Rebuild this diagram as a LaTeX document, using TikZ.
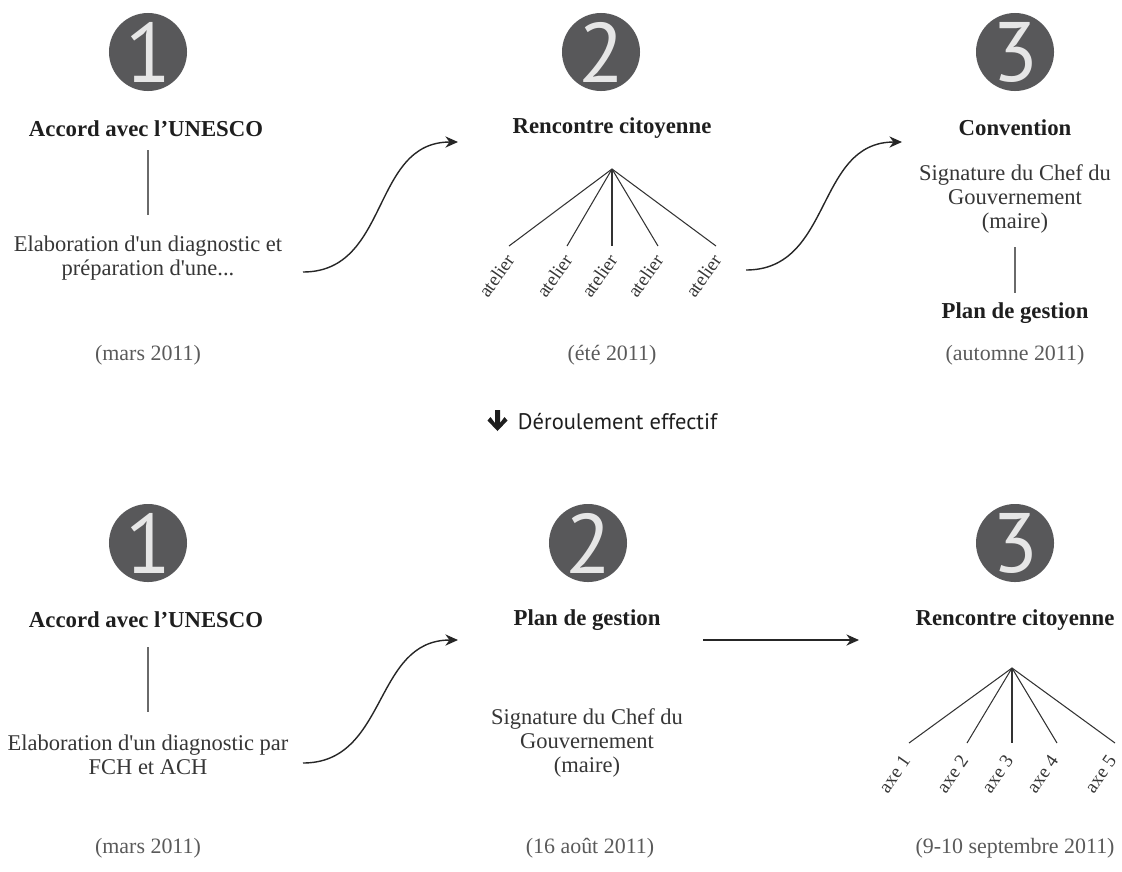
\documentclass[tikz,border=0pt]{standalone}
\usepackage{fontspec}
\setmainfont{Liberation Serif}
\newfontfamily\digitfont{PT Sans}
\newfontfamily\notefont{PT Sans}
\usetikzlibrary{arrows.meta,positioning,calc}

\definecolor{discgray}{HTML}{58585A}
\definecolor{digitgray}{HTML}{E6E6E6}
\definecolor{headgray}{HTML}{1E1E1E}
\definecolor{bodygray}{HTML}{363636}
\definecolor{dategray}{HTML}{5A5A5A}
\definecolor{linegray}{HTML}{6A6A6A}

\begin{document}
\begin{tikzpicture}[
    x=0.025cm, y=0.025cm,
    disc/.style={circle, fill=discgray, minimum size=1.95cm, inner sep=0pt, text=digitgray, font=\digitfont\fontsize{60}{60}\selectfont},
    headtxt/.style={font=\bfseries\fontsize{16.2}{18}\selectfont, text=headgray},
    bodytxt/.style={align=center, font=\fontsize{16}{16.8}\selectfont, text=bodygray},
    datetxt/.style={font=\fontsize{15.6}{18}\selectfont, text=dategray},
    branchtxt/.style={rotate=55, anchor=east, inner sep=1pt, font=\fontsize{13.5}{13.5}\selectfont, text=bodygray},
    link/.style={draw=linegray, line width=0.8pt},
    branch/.style={draw=black!80, line width=0.75pt},
    flow/.style={draw=black!85, line width=1pt, -{Stealth[length=9pt,width=8pt]}}
]
\useasboundingbox (0,0) rectangle (1122,-871);

% Planned sequence
\node[disc] (discA1) at (148,-52) {1};
\node[disc] (discA2) at (601,-52) {2};
\node[disc] (discA3) at (1015,-52) {3};

\node[headtxt] (accordA) at (146,-129) {Accord avec l’UNESCO};
\node[bodytxt] (elabA) at (148,-258) {Elaboration d\textquotesingle un diagnostic et\\préparation d\textquotesingle une...};
\node[datetxt] (dateA1) at (148,-355) {(mars 2011)};
\draw[link] (148,-150) -- (148,-215);

\node[headtxt] (rencA) at (612,-128) {Rencontre citoyenne};
\node[datetxt] (dateA2) at (612,-355) {(été 2011)};
\coordinate (rencAtop) at (612,-169);
\foreach \x [count=\i] in {509,567,612,658,716} {
    \coordinate (atel\i) at (\x,-246);
    \draw[branch] (rencAtop) -- (atel\i);
    \node[branchtxt] (atelLbl\i) at ([shift={(2,-9)}]atel\i) {atelier};
}

\node[headtxt] (convA) at (1015,-128) {Convention};
\node[bodytxt] (signA) at (1015,-199) {Signature du Chef du\\Gouvernement\\(maire)};
\node[headtxt] (planA) at (1015,-313) {Plan de gestion};
\node[datetxt] (dateA3) at (1015,-355) {(automne 2011)};
\draw[link] (1015,-247) -- (1015,-293);

\coordinate (flowA1s) at (303,-272);
\coordinate (flowA1e) at (458,-142);
\coordinate (flowA2s) at (746,-270);
\coordinate (flowA2e) at (902,-142);
\draw[flow] (flowA1s) to[out=0, in=180, looseness=1.1] (flowA1e);
\draw[flow] (flowA2s) to[out=0, in=180, looseness=1.1] (flowA2e);

% Separator
\node[anchor=west, font=\notefont\fontsize{16}{16}\selectfont, text=headgray] (deroul) at (513,-422) {Déroulement effectif};
\fill[headgray] ([shift={(-18,12)}]deroul.west) -- ++(5,0) -- ++(0,-13) -- ++(4.5,6) -- ++(3,-3.5)
    -- ++(-10,-10.5) -- ++(-10,10.5) -- ++(3,3.5) -- ++(4.5,-6) -- cycle;

% Actual sequence
\node[disc] (discB1) at (148,-543) {1};
\node[disc] (discB2) at (588,-543) {2};
\node[disc] (discB3) at (1015,-543) {3};

\node[headtxt] (accordB) at (146,-620) {Accord avec l’UNESCO};
\node[bodytxt] (elabB) at (148,-755) {Elaboration d\textquotesingle un diagnostic par\\FCH et ACH};
\node[datetxt] (dateB1) at (148,-848) {(mars 2011)};
\draw[link] (148,-647) -- (148,-712);

\node[headtxt] (planB) at (587,-620) {Plan de gestion};
\node[bodytxt] (signB) at (587,-743) {Signature du Chef du\\Gouvernement\\(maire)};
\node[datetxt] (dateB2) at (590,-848) {(16 août 2011)};

\node[headtxt] (rencB) at (1015,-620) {Rencontre citoyenne};
\node[datetxt] (dateB3) at (1015,-848) {(9-10 septembre 2011)};
\coordinate (rencBtop) at (1012,-668);
\foreach \x [count=\i] in {909,967,1012,1057,1115} {
    \coordinate (axe\i) at (\x,-743);
    \draw[branch] (rencBtop) -- (axe\i);
    \node[branchtxt] (axeLbl\i) at ([shift={(-2,-13)}]axe\i) {axe \i};
}

\coordinate (flowB1s) at (303,-763);
\coordinate (flowB1e) at (458,-640);
\coordinate (flowB2s) at (703,-640);
\coordinate (flowB2e) at (859,-640);
\draw[flow] (flowB1s) to[out=0, in=180, looseness=1.1] (flowB1e);
\draw[flow] (flowB2s) -- (flowB2e);

\end{tikzpicture}
\end{document}
